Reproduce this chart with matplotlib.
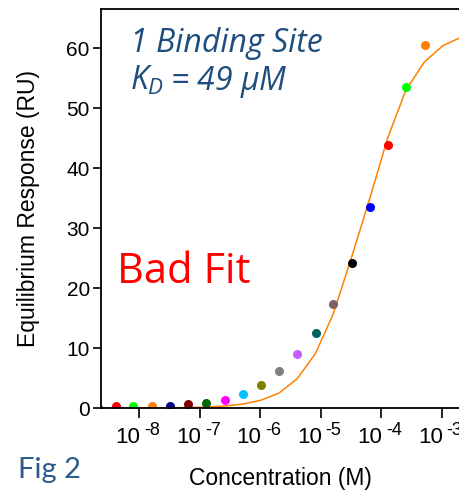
""" 1 binding site SPR fit, Fig 2 """

import matplotlib
matplotlib.use("Agg")
import matplotlib.pyplot as plt, numpy as np
import matplotlib.transforms as mtrans

# Concentrations (M) and equilibrium responses (RU)
conc = [2.1e-9, 4.1e-9, 7.9e-9, 1.6e-8, 3.2e-8, 6.4e-8, 1.27e-7, 2.6e-7, 5.2e-7,
		1.03e-6, 2.05e-6, 4.1e-6, 8.2e-6, 1.6e-5, 3.3e-5, 6.5e-5, 1.28e-4, 2.56e-4, 5.2e-4]
resp = [0.0, 0.3, 0.3, 0.3, 0.4, 0.6, 0.9, 1.4, 2.4,
		3.9, 6.1, 9.0, 12.5, 17.3, 24.2, 33.5, 43.9, 53.5, 60.5]
point_colors = ['#0000ff', '#ff0000', '#00ff00', '#ff8000', '#000080', '#800000',
		'#006400', '#ff00ff', '#00bfff', '#808000', '#808080', '#bf60ff',
		'#006060', '#806060', '#000000', '#0000ff', '#ff0000', '#00ff00', '#ff8000']

# Fitted curve (orange line)
fit_conc = conc + [1.05e-3, 2.1e-3]
fit_resp = [0.0, 0.01, 0.01, 0.02, 0.04, 0.08, 0.16, 0.33, 0.66,
		1.3, 2.5, 4.9, 9.1, 15.6, 25.4, 35.0, 45.0, 53.0, 57.7, 60.4, 61.8]

xticks = [1e-8, 1e-7, 1e-6, 1e-5, 1e-4, 1e-3]
xexps = ['-8', '-7', '-6', '-5', '-4', '-3']
yticks = [0, 10, 20, 30, 40, 50, 60]

plt.rcParams['mathtext.fontset'] = 'custom'
plt.rcParams['mathtext.rm'] = 'Liberation Sans'
plt.rcParams['mathtext.it'] = 'Open Sans:italic'

fig = plt.figure(figsize=(4.59, 4.93), dpi=100)
ax = fig.add_axes([0.220, 0.1724, 0.780, 0.8093])

ax.plot(fit_conc, fit_resp, color='#ff8000', lw=1.1, zorder=1)
for c, r, col in zip(conc, resp, point_colors):
	ax.plot(c, r, 'o', color=col, markersize=6.5, markeredgewidth=0, zorder=2)

ax.set_xscale('log')
ax.set_xlim(10**-8.633, 10**-2.714)
ax.set_ylim(0, 66.5)
ax.minorticks_off()
ax.set_xticks(xticks)
ax.set_xticklabels([''] * len(xticks))
ax.set_yticks(yticks)
ax.set_yticklabels([str(t) for t in yticks], family='Liberation Sans', size=15)
ax.tick_params(axis='x', length=7, width=1.2)
ax.tick_params(axis='y', length=6, width=1.2, pad=2)
ax.spines['right'].set_visible(False)
for s in ['left', 'top', 'bottom']:
	ax.spines[s].set_linewidth(1.3)

# "10" with a raised exponent, written as two texts like the original
blend = mtrans.blended_transform_factory(ax.transData, ax.transAxes)
def shifted(dx, dy):
	return blend + mtrans.ScaledTranslation(dx/100, dy/100, fig.dpi_scale_trans)
for t, e in zip(xticks, xexps):
	ax.text(t, 0, '10', transform=shifted(1, -35), ha='right', va='baseline',
		family='Liberation Sans', size=16, clip_on=False)
	ax.text(t, 0, e, transform=shifted(5, -27), ha='left', va='baseline',
		family='Liberation Sans', size=13, clip_on=False)

ax.set_xlabel('Concentration (M)', family='Liberation Sans', size=16.5, labelpad=32)
ax.set_ylabel('Equilibrium Response (RU)', family='Liberation Sans', size=16.5, labelpad=19)

# Annotations
blue = '#1f4e7e'
fig.text(130/459, 1-52/493, '1 Binding Site', family='Open Sans', style='italic',
		size=23, color=blue, va='baseline')
fig.text(130/459, 1-90/493, r'$\mathit{K_D}$', size=23, color=blue, va='baseline')
fig.text(170/459, 1-90/493, r'= 49 $\mathit{\mu}$M', family='Open Sans', style='italic',
		size=23, color=blue, va='baseline')
fig.text(117/459, 1-283/493, 'Bad Fit', family='Open Sans', size=30,
		color='#ff0000', va='baseline')
fig.text(18/459, 1-478/493, 'Fig 2', family='Lato', size=21, color='#2b5c8a',
		va='baseline')

plt.savefig('out.png', dpi=100)
